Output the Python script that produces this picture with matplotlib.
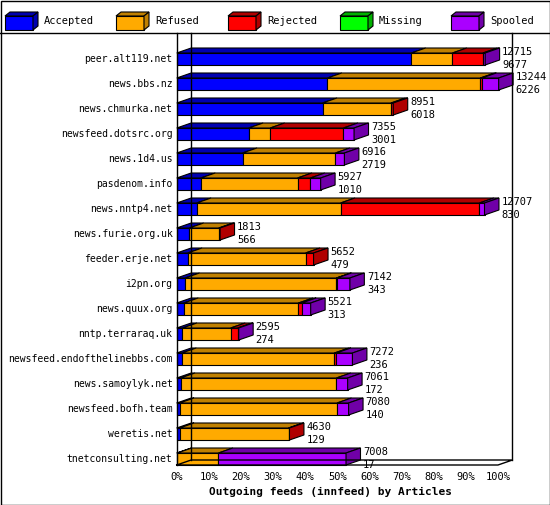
import matplotlib.pyplot as plt
from matplotlib.patches import Polygon, Rectangle

hosts = ["peer.alt119.net", "news.bbs.nz", "news.chmurka.net", "newsfeed.dotsrc.org",
         "news.1d4.us", "pasdenom.info", "news.nntp4.net", "news.furie.org.uk",
         "feeder.erje.net", "i2pn.org", "news.quux.org", "nntp.terraraq.uk",
         "newsfeed.endofthelinebbs.com", "news.samoylyk.net", "newsfeed.bofh.team",
         "weretis.net", "tnetconsulting.net"]
offered = [12715, 13244, 8951, 7355, 6916, 5927, 12707, 1813, 5652, 7142, 5521, 2595,
           7272, 7061, 7080, 4630, 7008]
accepted_n = [9677, 6226, 6018, 3001, 2719, 1010, 830, 566, 479, 343, 313, 274,
              236, 172, 140, 129, 17]
# percentages
accepted = [73.0, 46.9, 45.4, 22.4, 20.5, 7.5, 6.2, 3.9, 3.4, 2.6, 2.2, 1.8, 1.6, 1.2, 0.9, 0.9, 0.2]
refused = [12.8, 47.6, 21.3, 6.7, 28.9, 30.1, 44.8, 9.2, 36.7, 47.1, 35.7, 15.0, 47.5, 48.5, 49.0, 33.9, 12.8]
rejected = [9.5, 0.5, 0.7, 22.8, 0.0, 4.0, 43.2, 0.4, 2.5, 0.2, 1.0, 2.2, 0.6, 0.0, 0.0, 0.3, 0.0]
missing = [0.0] * 17
spooled = [0.7, 5.2, 0.0, 3.3, 2.8, 3.2, 1.6, 0.0, 0.0, 4.0, 2.8, 0.3, 5.0, 3.5, 3.6, 0.0, 39.7]

series = ["Accepted", "Refused", "Rejected", "Missing", "Spooled"]
front = ["#0000ff", "#ffaa00", "#ff0000", "#00ff00", "#aa00ff"]
shade = ["#0000b0", "#c08000", "#b00000", "#00b000", "#7000a8"]

W, H = 550, 505
fig = plt.figure(figsize=(W / 100, H / 100), dpi=100)

# pixel overlay for frame and legend
pa = fig.add_axes([0, 0, 1, 1])
pa.set_xlim(0, W)
pa.set_ylim(H, 0)
pa.axis("off")
pa.add_patch(Rectangle((0.5, 0.5), W - 1, H - 1, fill=False, lw=1, ec="black"))
pa.plot([0, W], [33, 33], color="black", lw=1)
mono = "DejaVu Sans Mono"
lx = [5, 116, 228, 340, 451]
for i, name in enumerate(series):
    x, y = lx[i], 12
    pa.add_patch(Polygon([(x, y + 4), (x + 28, y + 4), (x + 28, y + 18), (x, y + 18)],
                         fc=front[i], ec="black", lw=0.8))
    pa.add_patch(Polygon([(x, y + 4), (x + 5, y), (x + 33, y), (x + 28, y + 4)],
                         fc=shade[i], ec="black", lw=0.8))
    pa.add_patch(Polygon([(x + 28, y + 4), (x + 33, y), (x + 33, y + 14), (x + 28, y + 18)],
                         fc=shade[i], ec="black", lw=0.8))
    pa.text(x + 39, y + 9, name, fontsize=7.5, family=mono, va="center")

# data axes: x in %, y in rows
top_px, bot_px = 40, 465
ax = fig.add_axes([176.7 / W, 1 - bot_px / H, 321.3 / W, (bot_px - top_px) / H])
ax.set_xlim(0, 100)
r0 = (top_px - 59) / 25
r1 = (bot_px - 59) / 25
ax.set_ylim(r1, r0)
ax.axis("off")

dx, dy, h = 4.5, 0.2, 0.48
# walls and floor
ax.plot([0, 0], [r1, -0.76 - 7 / 25], color="black", lw=1, clip_on=False)
ax.plot([dx, dx], [r1 - dy, -0.76 - 7 / 25], color="black", lw=1, clip_on=False)
ax.plot([100 + dx, 100 + dx], [r1 - dy, -0.76 - 7 / 25], color="black", lw=1, clip_on=False)
ax.plot([0, 100, 100 + dx, dx, 0], [r1, r1, r1 - dy, r1 - dy, r1], color="black", lw=1, clip_on=False)

for i in range(len(hosts)):
    vals = [accepted[i], refused[i], rejected[i], missing[i], spooled[i]]
    x0 = 0
    last = 0
    yt, yb = i - h / 2, i + h / 2
    for k, v in enumerate(vals):
        if v <= 0:
            continue
        x1 = x0 + v
        ax.add_patch(Polygon([(x0, yt), (x1, yt), (x1, yb), (x0, yb)], fc=front[k], ec="black", lw=0.8, clip_on=False))
        ax.add_patch(Polygon([(x0, yt), (x1, yt), (x1 + dx, yt - dy), (x0 + dx, yt - dy)], fc=shade[k], ec="black", lw=0.8, clip_on=False))
        x0 = x1
        last = k
    ax.add_patch(Polygon([(x0, yt), (x0 + dx, yt - dy), (x0 + dx, yb - dy), (x0, yb)], fc=shade[last], ec="black", lw=0.8, clip_on=False))
    ax.text(-1.3, i, hosts[i], ha="right", va="center", fontsize=7, family=mono, clip_on=False)
    ax.text(x0 + dx + 0.8, i - 0.28, str(offered[i]), ha="left", va="center", fontsize=7.5, family=mono, clip_on=False)
    ax.text(x0 + dx + 0.8, i + 0.22, str(accepted_n[i]), ha="left", va="center", fontsize=7.5, family=mono, clip_on=False)

for t in range(0, 101, 10):
    ax.text(t, r1 + 0.5, f"{t}%", ha="center", va="center", fontsize=7.5, family=mono, clip_on=False)
ax.text(48, r1 + 1.07, "Outgoing feeds (innfeed) by Articles", ha="center", va="center",
        fontsize=8, family=mono, weight="bold", clip_on=False)

fig.savefig("out.png", dpi=100)
